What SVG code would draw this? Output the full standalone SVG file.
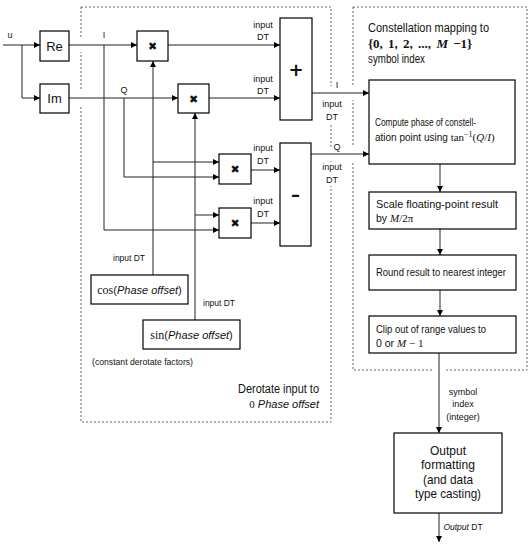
<svg xmlns="http://www.w3.org/2000/svg" width="531" height="549" viewBox="0 0 531 549">
<defs>
<marker id="ah" markerWidth="7" markerHeight="6" refX="6" refY="3" orient="auto" markerUnits="userSpaceOnUse">
<path d="M0,0 L6,3 L0,6 Z" fill="#000"/>
</marker>
<style>
.box{fill:#fff;stroke:#000;stroke-width:1.2}
.dash{fill:none;stroke:#666;stroke-width:1;stroke-dasharray:2,2}
.gap{fill:#fff;stroke:none}
.ar{fill:none;stroke:#222;stroke-width:1;marker-end:url(#ah)}
text{font-family:"Liberation Sans",Arial,sans-serif;fill:#111}
.s{font-size:9px}
.m{font-size:11px}
.b{font-size:12px}
.o{font-size:13px}
.f{font-size:10.5px}
.math{font-family:"Liberation Serif","DejaVu Serif",serif}
.it{font-style:italic}
.op{font-family:"DejaVu Sans",sans-serif;font-weight:bold;text-anchor:middle}
</style>
</defs>
<g id="frames">
<rect class="dash" x="81" y="7" width="250" height="415"/>
<rect class="dash" x="353" y="7" width="174" height="363"/>
<rect class="gap" x="78" y="38" width="6" height="14"/>
<rect class="gap" x="78" y="91" width="6" height="14"/>
<rect class="gap" x="328" y="86" width="6" height="14"/>
<rect class="gap" x="328" y="147" width="6" height="14"/>
<rect class="gap" x="350" y="86" width="6" height="14"/>
<rect class="gap" x="350" y="147" width="6" height="14"/>
<rect class="gap" x="432" y="367" width="14" height="6"/>
</g>
<g id="connectors">
<path class="ar" d="M3,45 H40"/>
<path class="ar" d="M22,45 V98 H40"/>
<path class="ar" d="M69,45 H137"/>
<path class="ar" d="M69,98 H178"/>
<path class="ar" d="M104,45 V230 H219"/>
<path class="ar" d="M124,98 V177 H219"/>
<path class="ar" d="M153,275 V61"/>
<path class="ar" d="M153,162 H219"/>
<path class="ar" d="M195,320 V113"/>
<path class="ar" d="M195,215 H219"/>
<path class="ar" d="M168,45 H280"/>
<path class="ar" d="M209,98 H280"/>
<path class="ar" d="M251,170 H280"/>
<path class="ar" d="M251,223 H280"/>
<path class="ar" d="M312,93 H369"/>
<path class="ar" d="M311,154 H369"/>
<path class="ar" d="M440,164 V192"/>
<path class="ar" d="M440,229 V255"/>
<path class="ar" d="M440,290 V316"/>
<path class="ar" d="M439,353 V433"/>
<path class="ar" d="M439,513 V542"/>
</g>
<g id="labels">
<text class="s" x="10" y="38" text-anchor="middle">u</text>
<text class="s" x="104" y="38" text-anchor="middle">I</text>
<text class="s" x="124" y="93" text-anchor="middle">Q</text>
<text class="s" x="263" y="28" text-anchor="middle">input</text>
<text class="s" x="263" y="40" text-anchor="middle">DT</text>
<text class="s" x="263" y="82" text-anchor="middle">input</text>
<text class="s" x="263" y="94" text-anchor="middle">DT</text>
<text class="s" x="263" y="151" text-anchor="middle">input</text>
<text class="s" x="263" y="164" text-anchor="middle">DT</text>
<text class="s" x="263" y="204" text-anchor="middle">input</text>
<text class="s" x="263" y="217" text-anchor="middle">DT</text>
<text class="s" x="337" y="88" text-anchor="middle">I</text>
<rect class="gap" x="323" y="99" width="18" height="24"/>
<text class="s" x="332" y="107" text-anchor="middle">input</text>
<text class="s" x="332" y="120" text-anchor="middle">DT</text>
<text class="s" x="337" y="150" text-anchor="middle">Q</text>
<rect class="gap" x="323" y="162" width="18" height="24"/>
<text class="s" x="332" y="170" text-anchor="middle">input</text>
<text class="s" x="332" y="183" text-anchor="middle">DT</text>
<text class="s" x="113" y="261" textLength="32" lengthAdjust="spacingAndGlyphs">input DT</text>
<text class="s" x="203" y="306" textLength="32" lengthAdjust="spacingAndGlyphs">input DT</text>
<text class="s" x="92" y="365" textLength="101" lengthAdjust="spacingAndGlyphs">(constant derotate factors)</text>
<text class="b" x="238" y="393" textLength="81" lengthAdjust="spacingAndGlyphs">Derotate input to</text>
<text class="m" x="319" y="408" text-anchor="end"><tspan class="math">0</tspan> <tspan class="it">Phase offset</tspan></text>
<text class="b" x="368" y="32" textLength="121" lengthAdjust="spacingAndGlyphs">Constellation mapping to</text>
<text class="math" x="368" y="48" font-size="13" font-weight="600" word-spacing="2">{0, 1, 2, ..., <tspan class="it">M</tspan> −1}</text>
<text class="b" x="368" y="63" textLength="57" lengthAdjust="spacingAndGlyphs">symbol index</text>
<text class="s" x="463" y="395" text-anchor="middle">symbol</text>
<text class="s" x="463" y="407" text-anchor="middle">index</text>
<text class="s" x="463" y="420" text-anchor="middle">(integer)</text>
<text x="463" y="530" text-anchor="middle" font-size="8.5"><tspan class="it">Output</tspan> DT</text>
</g>
<g id="re"><rect class="box" x="40" y="31" width="29" height="30"/><text class="o" x="54.5" y="51" text-anchor="middle">Re</text></g>
<g id="im"><rect class="box" x="40" y="84" width="29" height="29"/><text class="o" x="54.5" y="103" text-anchor="middle">Im</text></g>
<g id="mult1"><rect class="box" x="137" y="31" width="31" height="30"/><text class="op" x="152.5" y="50" font-size="11">✖</text></g>
<g id="mult2"><rect class="box" x="178" y="84" width="31" height="29"/><text class="op" x="193.5" y="103" font-size="11">✖</text></g>
<g id="mult3"><rect class="box" x="219" y="154" width="32" height="30"/><text class="op" x="235" y="173" font-size="11">✖</text></g>
<g id="mult4"><rect class="box" x="219" y="208" width="32" height="30"/><text class="op" x="235" y="227" font-size="11">✖</text></g>
<g id="plus"><rect class="box" x="280" y="18" width="32" height="102"/><text class="op" x="296" y="76" font-size="18">+</text></g>
<g id="minus"><rect class="box" x="280" y="143" width="31" height="103"/><text class="op" x="295.5" y="201" font-size="18">–</text></g>
<g id="cos"><rect class="box" x="91" y="275" width="97" height="29"/><text class="m" x="139.5" y="294" text-anchor="middle"><tspan class="math" font-size="12">cos</tspan>(<tspan class="it">Phase offset</tspan>)</text></g>
<g id="sin"><rect class="box" x="143" y="320" width="97" height="29"/><text class="m" x="191.5" y="339" text-anchor="middle"><tspan class="math" font-size="12">sin</tspan>(<tspan class="it">Phase offset</tspan>)</text></g>
<g id="compute"><rect class="box" x="369" y="80" width="146" height="84"/>
<text class="f" x="375" y="126" textLength="101" lengthAdjust="spacingAndGlyphs">Compute phase of constell-</text>
<text x="375" y="141" font-size="10">ation point using <tspan class="math" font-size="11">tan<tspan dy="-4" font-size="8">−1</tspan><tspan dy="4">(<tspan class="it">Q</tspan>/<tspan class="it">I</tspan>)</tspan></tspan></text></g>
<g id="scale"><rect class="box" x="369" y="192" width="147" height="37"/>
<text class="f" x="376" y="208" textLength="122" lengthAdjust="spacingAndGlyphs">Scale floating-point result</text>
<text class="f" x="376" y="222">by <tspan class="math it" font-size="11">M</tspan><tspan class="math" font-size="11">/2π</tspan></text></g>
<g id="round"><rect class="box" x="369" y="255" width="147" height="35"/>
<text class="f" x="376" y="276" textLength="130" lengthAdjust="spacingAndGlyphs">Round result to nearest integer</text></g>
<g id="clip"><rect class="box" x="369" y="316" width="147" height="37"/>
<text class="f" x="376" y="333" textLength="110" lengthAdjust="spacingAndGlyphs">Clip out of range values to</text>
<text class="f" x="376" y="347">0 or <tspan class="math it" font-size="11">M</tspan><tspan class="math" font-size="11"> − 1</tspan></text></g>
<g id="output"><rect class="box" x="394" y="433" width="108" height="80"/>
<text class="o" x="448" y="455" text-anchor="middle" textLength="36" lengthAdjust="spacingAndGlyphs">Output</text>
<text class="o" x="448" y="469" text-anchor="middle" textLength="54" lengthAdjust="spacingAndGlyphs">formatting</text>
<text class="o" x="448" y="484" text-anchor="middle" textLength="50" lengthAdjust="spacingAndGlyphs">(and data</text>
<text class="o" x="448" y="498" text-anchor="middle" textLength="66" lengthAdjust="spacingAndGlyphs">type casting)</text></g>
</svg>
